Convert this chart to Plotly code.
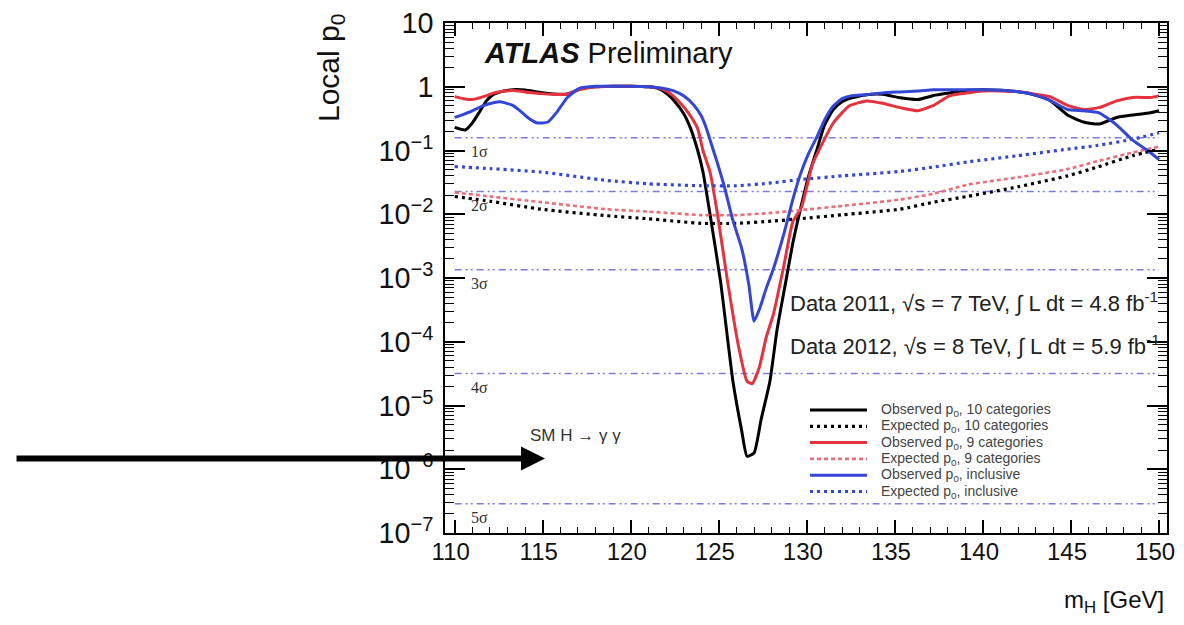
import math
import plotly.graph_objects as go

# ---------------- data ----------------
obs10_x = [110.0, 110.6, 111.0, 111.4, 111.8, 112.2, 112.8, 113.3, 114.0, 114.8, 115.6, 116.4, 117.1,
           118.0, 119.0, 120.0, 121.0, 121.5, 122.0, 122.4, 123.0, 123.4, 123.8, 124.1, 124.5, 125.1,
           125.8, 126.3, 126.6, 127.0, 127.4, 127.9, 128.3, 128.8, 129.2, 129.6, 130.1, 130.6, 131.0,
           131.5, 132.0, 132.4, 133.4, 134.3, 135.3, 136.3, 137.2, 138.1, 139.1, 140.0, 141.0, 141.9,
           142.8, 143.8, 144.8, 145.7, 146.6, 147.6, 148.5, 149.5, 150.0]
obs10_p = [0.23, 0.21, 0.27, 0.40, 0.60, 0.76, 0.86, 0.90, 0.89, 0.82, 0.77, 0.77, 0.92,
           1.0, 1.02, 1.02, 1.0, 0.95, 0.80, 0.63, 0.38, 0.22, 0.10, 0.046, 0.010, 8.7e-4,
           2.4e-5, 4e-6, 1.6e-6, 1.8e-6, 6e-6, 2.4e-5, 1.5e-4, 8.7e-4, 3.5e-3, 0.011, 0.04, 0.11, 0.25,
           0.44, 0.58, 0.65, 0.75, 0.76, 0.67, 0.63, 0.73, 0.80, 0.88, 0.90, 0.88, 0.84,
           0.76, 0.61, 0.36, 0.28, 0.26, 0.33, 0.36, 0.39, 0.42]

obs9_x = [110.0, 110.5, 111.0, 111.5, 112.0, 112.6, 113.3, 114.0, 114.9, 115.6, 116.4, 117.1, 118.0,
          119.0, 120.0, 121.0, 121.6, 122.2, 122.8, 123.3, 123.8, 124.1, 124.5, 124.9, 125.5, 126.1,
          126.6, 126.9, 127.3, 127.7, 128.1, 128.7, 129.2, 129.7, 130.3, 130.6, 131.5, 132.4, 133.4,
          134.3, 135.3, 136.3, 137.2, 138.1, 139.1, 140.0, 141.0, 141.9, 142.8, 143.8, 144.8, 145.7,
          146.6, 147.6, 148.5, 149.5, 150.0]
obs9_p = [0.70, 0.65, 0.63, 0.68, 0.76, 0.84, 0.87, 0.83, 0.78, 0.76, 0.76, 0.90, 1.0,
          1.02, 1.02, 1.0, 0.95, 0.80, 0.56, 0.38, 0.22, 0.10, 0.046, 0.011, 8.7e-4, 9e-5,
          2.4e-5, 2.2e-5, 4e-5, 1.2e-4, 2.7e-4, 1.6e-3, 7.6e-3, 0.013, 0.059, 0.09, 0.27, 0.50, 0.60,
          0.55, 0.47, 0.42, 0.51, 0.72, 0.80, 0.86, 0.86, 0.84, 0.78, 0.70, 0.51, 0.44,
          0.47, 0.60, 0.68, 0.68, 0.72]

obsinc_x = [110.0, 110.5, 111.0, 111.6, 112.2, 112.6, 113.3, 113.8, 114.2, 114.7, 115.3, 115.8, 116.4,
            117.1, 118.0, 119.0, 120.0, 121.0, 121.8, 122.4, 123.0, 123.6, 124.0, 124.3, 124.6, 124.9,
            125.3, 125.8, 126.3, 126.7, 127.0, 127.3, 127.7, 128.1, 128.7, 129.2, 129.6, 130.1, 130.6,
            131.0, 131.5, 132.0, 132.5, 133.4, 134.3, 135.3, 136.3, 137.2, 138.1, 139.1, 140.0, 141.0,
            141.9, 142.8, 143.8, 144.8, 145.7, 146.6, 147.6, 148.5, 149.5, 150.0]
obsinc_p = [0.33, 0.37, 0.42, 0.50, 0.56, 0.58, 0.51, 0.40, 0.32, 0.27, 0.28, 0.40, 0.68,
            0.95, 1.02, 1.02, 1.02, 1.0, 0.95, 0.87, 0.72, 0.51, 0.35, 0.22, 0.12, 0.066,
            0.028, 0.008, 2.9e-3, 8e-4, 2.1e-4, 3.2e-4, 7e-4, 1.4e-3, 5e-3, 0.017, 0.04, 0.09, 0.17,
            0.30, 0.50, 0.65, 0.72, 0.75, 0.80, 0.83, 0.86, 0.90, 0.90, 0.90, 0.90, 0.88,
            0.84, 0.76, 0.61, 0.44, 0.42, 0.39, 0.25, 0.145, 0.093, 0.072]

exp_x = [110.0, 112.0, 114.9, 118.6, 121.0, 124.0, 126.0, 128.0, 129.6, 132.0, 135.3, 137.2, 139.1,
         142.0, 144.8, 146.5, 148.5, 150.0]
exp10_p = [0.019, 0.016, 0.012, 0.0095, 0.0085, 0.0072, 0.0072, 0.0078, 0.0085, 0.0098, 0.012, 0.0155,
           0.019, 0.027, 0.040, 0.055, 0.083, 0.105]
exp9_p = [0.022, 0.019, 0.0155, 0.012, 0.011, 0.0097, 0.0097, 0.0105, 0.0116, 0.0135, 0.017, 0.021,
          0.029, 0.038, 0.051, 0.068, 0.093, 0.115]
expinc_p = [0.056, 0.052, 0.046, 0.034, 0.030, 0.028, 0.028, 0.031, 0.035, 0.040, 0.047, 0.055,
            0.066, 0.083, 0.105, 0.120, 0.150, 0.190]

sigma_labels = ["1σ", "2σ", "3σ", "4σ", "5σ"]
sigma_p = [0.1587, 0.02275, 1.35e-3, 3.17e-5, 2.87e-7]
sigma_x = [110.0, 150.0]

x_ticks = [110, 115, 120, 125, 130, 135, 140, 145, 150]

legend_names = ["Observed p<sub>0</sub>, 10 categories", "Expected p<sub>0</sub>, 10 categories",
                "Observed p<sub>0</sub>, 9 categories", "Expected p<sub>0</sub>, 9 categories",
                "Observed p<sub>0</sub>, inclusive", "Expected p<sub>0</sub>, inclusive"]

arrow_target = (115.13, 1.48e-6)
sm_label_pos = (114.15, 3.4e-6)

# ---------------- styles ----------------
BLACK = "#000000"
RED = "#e5323f"
RED_EXP = "#e8707a"
BLUE = "#3346d6"
SIG = "#7b7be0"
FONT = "Liberation Sans, Arial, sans-serif"

# the page body adds an 8 px margin; plot area wanted at page pixels [445,1167] x [23,533]
OFF = 8
W, H = 1184 - 2 * OFF, 625 - 2 * OFF
P_L, P_R, P_T, P_B = 445, 1167, 23, 533
ML, MT = P_L - OFF, P_T - OFF
MR, MB = W - (P_R - OFF), H - (P_B - OFF)
PW, PH = P_R - P_L, P_B - P_T


def px2paper_x(px):
    return (px - P_L) / PW


def px2paper_y(py):
    return (P_B - py) / PH


fig = go.Figure()

for p in sigma_p:
    fig.add_trace(go.Scatter(x=sigma_x, y=[p, p], mode="lines", showlegend=False, hoverinfo="skip",
                             line=dict(color=SIG, width=1.6, dash="7px,4px,2px,3px,2px,4px")))

series = [
    (obs10_x, obs10_p, BLACK, "solid", 3),
    (exp_x, exp10_p, BLACK, "3px,4px", 3.2),
    (obs9_x, obs9_p, RED, "solid", 3),
    (exp_x, exp9_p, RED_EXP, "4px,3px", 2.6),
    (obsinc_x, obsinc_p, BLUE, "solid", 3),
    (exp_x, expinc_p, BLUE, "3px,4px", 3.2),
]
for (xs, ps, col, dash, w), name in zip(series, legend_names):
    fig.add_trace(go.Scatter(x=xs, y=ps, mode="lines", name=name, showlegend=False,
                             line=dict(color=col, dash=dash, width=w, shape="spline", smoothing=0.5)))

annotations = []
shapes = []
for lab, p in zip(sigma_labels, sigma_p):
    annotations.append(dict(x=110.8, y=math.log10(p), xref="x", yref="y", yshift=-14, text=lab,
                            showarrow=False, xanchor="left", yanchor="middle",
                            font=dict(family="Liberation Serif, serif", size=16, color="#333333")))

# legend (drawn manually to mimic ROOT TLegend)
leg_x0, leg_x1, leg_tx = 810, 867, 879
leg_y0, leg_dy = 410, 16.3
for i, ((xs, ps, col, dash, w), name) in enumerate(zip(series, legend_names)):
    yy = px2paper_y(leg_y0 + i * leg_dy)
    shapes.append(dict(type="line", xref="paper", yref="paper", x0=px2paper_x(leg_x0),
                       x1=px2paper_x(leg_x1), y0=yy, y1=yy,
                       line=dict(color=col, width=w, dash=dash)))
    annotations.append(dict(x=px2paper_x(leg_tx), y=yy, xref="paper", yref="paper", xanchor="left",
                            yanchor="middle", showarrow=False, text=name,
                            font=dict(family=FONT, size=14, color="#444444")))

annotations += [
    dict(x=px2paper_x(482), y=px2paper_y(53), xref="paper", yref="paper", xanchor="left", yanchor="middle",
         showarrow=False, text="<b><i>ATLAS</i></b> Preliminary",
         font=dict(family=FONT, size=29, color="#111111")),
    dict(x=px2paper_x(788), y=px2paper_y(302), xref="paper", yref="paper", xanchor="left",
         yanchor="middle", showarrow=False,
         text="Data 2011, √s = 7 TeV, ∫ L dt = 4.8 fb<sup>-1</sup>",
         font=dict(family=FONT, size=22, color="#222222")),
    dict(x=px2paper_x(788), y=px2paper_y(345), xref="paper", yref="paper", xanchor="left",
         yanchor="middle", showarrow=False,
         text="Data 2012, √s = 8 TeV, ∫ L dt = 5.9 fb<sup>-1</sup>",
         font=dict(family=FONT, size=22, color="#222222")),
    dict(x=sm_label_pos[0], y=math.log10(sm_label_pos[1]), xref="x", yref="y", xanchor="left",
         yanchor="middle", showarrow=False,
         text="SM H → γ γ", font=dict(family=FONT, size=17, color="#333333")),
    dict(x=px2paper_x(330), y=px2paper_y(12), xref="paper", yref="paper", xanchor="center", yanchor="top",
         showarrow=False, textangle=-90, text="Local p<sub>0</sub>",
         font=dict(family=FONT, size=30, color="#111111")),
    dict(x=px2paper_x(1166), y=px2paper_y(601), xref="paper", yref="paper", xanchor="right",
         yanchor="middle", showarrow=False, text="m<sub>H</sub> [GeV]",
         font=dict(family=FONT, size=24, color="#111111")),
    dict(x=arrow_target[0], y=math.log10(arrow_target[1]), xref="x", yref="y", text="", showarrow=True,
         axref="pixel", ayref="pixel", ax=-530, ay=0, arrowhead=2, arrowsize=0.8, arrowwidth=6,
         arrowcolor="#000000"),
]

fig.update_layout(
    width=W, height=H,
    margin=dict(l=ML, r=MR, t=MT, b=MB, autoexpand=False),
    paper_bgcolor="white", plot_bgcolor="white",
    font=dict(family=FONT, color="#111111"),
    annotations=annotations,
    shapes=shapes,
    showlegend=False,
)

fig.update_xaxes(range=[109.45, 150.45], tickvals=x_ticks, ticks="inside", ticklen=13, tickwidth=1.5,
                 tickcolor="black", showline=True, linecolor="black", linewidth=2, mirror="allticks",
                 showgrid=False, zeroline=False, automargin=False, ticklabelstandoff=-4, ticklabelshift=-4,
                 ticklabeloverflow="allow",
                 tickfont=dict(family=FONT, size=24, color="#111111"),
                 minor=dict(dtick=1, ticks="inside", ticklen=6, tickcolor="black", tickwidth=1.2, showgrid=False))
fig.update_yaxes(type="log", range=[-7, 1], dtick=1, exponentformat="power", ticks="inside", ticklen=20,
                 tickwidth=2, tickcolor="black", showline=True, linecolor="black", linewidth=2,
                 mirror="allticks", showgrid=False, zeroline=False, automargin=False, ticklabelstandoff=5,
                 ticklabeloverflow="allow",
                 tickfont=dict(family=FONT, size=23, color="#111111"),
                 minor=dict(dtick="D1", ticks="inside", ticklen=9, tickcolor="black", tickwidth=1.2,
                            showgrid=False))

fig.write_html("out.html")
